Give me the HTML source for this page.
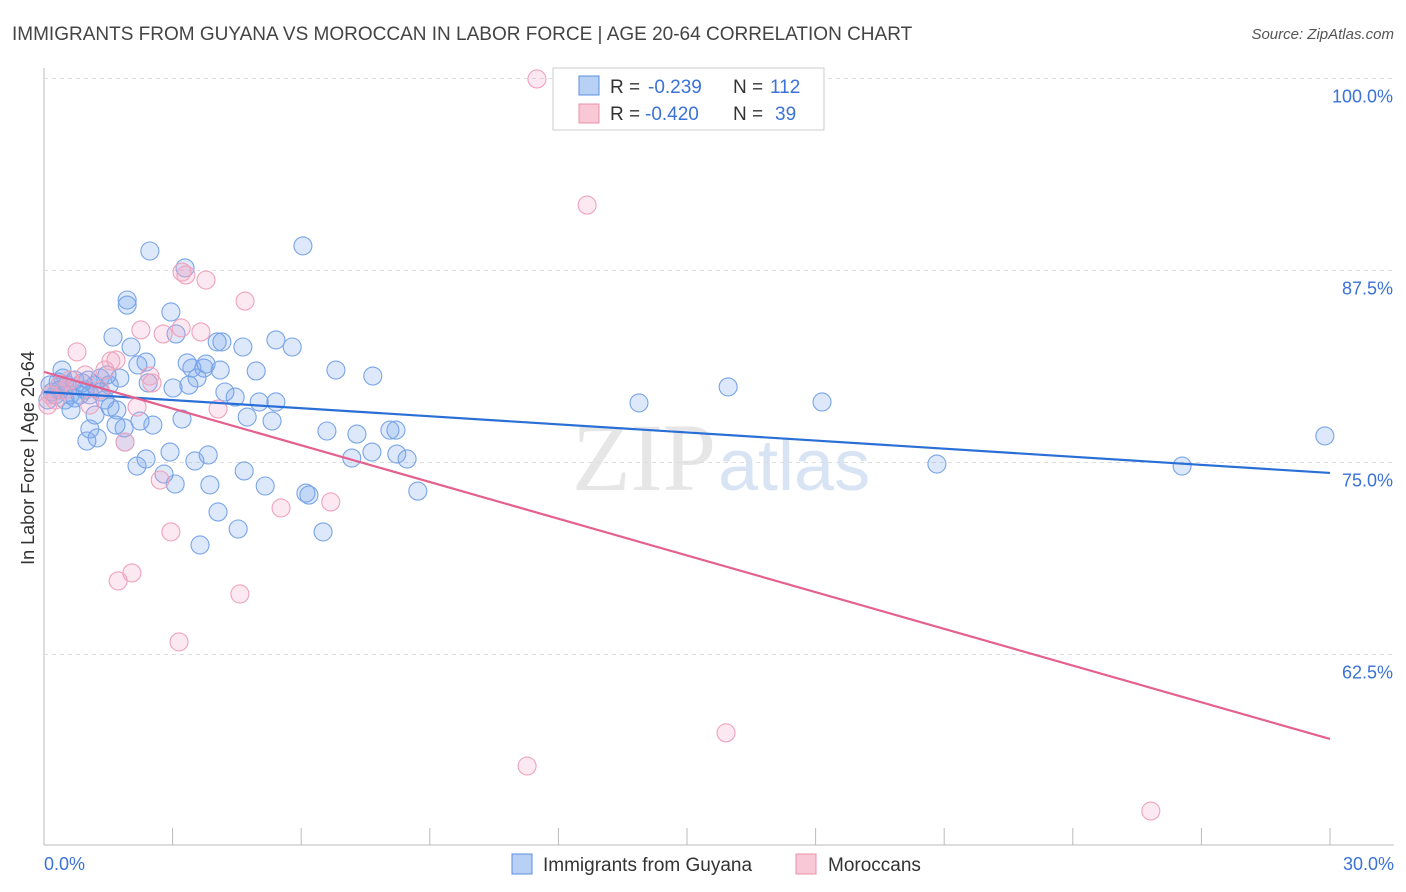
<!DOCTYPE html>
<html><head><meta charset="utf-8"><style>
body{margin:0;background:#fff;font-family:"Liberation Sans",sans-serif}
svg{display:block}
</style></head><body>
<svg id="c" width="1406" height="892">
<text x="12" y="40" font-size="19" fill="#444">IMMIGRANTS FROM GUYANA VS MOROCCAN IN LABOR FORCE | AGE 20-64 CORRELATION CHART</text>
<text x="1394" y="39" font-size="15" fill="#555" font-style="italic" text-anchor="end">Source: ZipAtlas.com</text>
<text x="716" y="490" font-size="96" fill="#e6e6e6" text-anchor="end" font-family="Liberation Serif">ZIP</text>
<text x="718" y="490" font-size="72" fill="#d8e4f4">atlas</text>
<text transform="translate(34,458) rotate(-90)" font-size="18" fill="#333" text-anchor="middle">In Labor Force | Age 20-64</text>
<g id="grid"></g><g id="pts"></g><g id="trend"></g>
<g>
<rect x="553" y="68" width="271" height="62" fill="#fff" stroke="#ccc"/>
<rect x="579" y="76" width="20" height="19" fill="#b8d0f4" stroke="#5b8fe0"/>
<rect x="579" y="104" width="20" height="19" fill="#f8c8d6" stroke="#e890aa"/>
<text x="610" y="93" font-size="19" fill="#333">R =</text>
<text x="648" y="93" font-size="19" fill="#3a72d8">-0.239</text>
<text x="733" y="93" font-size="19" fill="#333">N =</text>
<text x="770" y="93" font-size="19" fill="#3a72d8">112</text>
<text x="610" y="120" font-size="19" fill="#333">R =</text>
<text x="645" y="120" font-size="19" fill="#3a72d8">-0.420</text>
<text x="733" y="120" font-size="19" fill="#333">N =</text>
<text x="775" y="120" font-size="19" fill="#3a72d8">39</text>
</g>
<g>
<rect x="512" y="854" width="20" height="20" fill="#b8d0f4" stroke="#5b8fe0"/>
<text x="543" y="871" font-size="19" fill="#333">Immigrants from Guyana</text>
<rect x="796" y="854" width="20" height="20" fill="#f8c8d6" stroke="#e890aa"/>
<text x="828" y="871" font-size="19" fill="#333">Moroccans</text>
</g>
<text x="44" y="870" font-size="18" fill="#3a72d8">0.0%</text>
<text x="1394" y="870" font-size="18" fill="#3a72d8" text-anchor="end">30.0%</text>
</svg>
<script>
const blueX=[2.47,6.04,3.29,1.94,1.94,2.96,3.08,1.61,2.03,4.04,4.15,4.64,5.41,5.79,2.38,3.34,3.45,3.78,3.73,4.95,6.81,7.67,4.11,0.42,1.31,1.77,1.47,3.57,2.43,3.38,3.01,4.22,4.46,5.02,5.41,15.96,13.88,18.15,0.63,1.54,1.70,1.19,2.54,1.68,2.24,3.22,4.74,5.32,1.87,1.07,1.00,1.89,1.24,6.60,7.30,8.07,8.21,2.94,2.38,2.80,3.06,3.52,3.83,4.67,5.16,7.18,7.65,8.23,8.47,2.17,6.11,6.18,8.72,3.87,4.06,4.53,3.64,6.51,20.83,26.55,29.88,0.14,0.26,0.37,0.54,0.72,0.84,0.96,0.09,0.49,0.61,1.07,1.31,0.33,0.19,0.72,0.89,1.42,1.03,0.44,1.19,1.52,2.19];
const blueY=[88.77,89.10,87.67,85.58,85.25,84.80,83.37,83.17,82.52,82.85,82.85,82.52,82.98,82.52,81.54,81.48,81.15,81.41,81.15,80.96,81.02,80.63,81.02,81.02,80.50,80.50,80.70,80.50,80.18,80.04,79.85,79.59,79.26,78.94,78.94,79.92,78.88,78.94,78.42,78.61,78.42,78.09,77.44,77.44,77.70,77.83,77.96,77.70,77.25,77.18,76.40,76.33,76.60,77.05,76.85,77.11,77.11,75.68,75.23,74.25,73.60,75.10,75.49,74.45,73.47,75.29,75.68,75.55,75.23,74.77,73.01,72.88,73.14,73.54,71.78,70.67,69.63,70.48,74.90,74.77,76.73,80.05,79.40,79.72,80.05,80.37,79.40,79.72,79.07,79.07,79.40,79.40,79.59,80.24,79.59,79.20,80.18,79.07,80.37,80.50,80.05,80.05,81.35];
const pinkX=[11.50,12.67,3.31,3.78,4.69,3.22,2.26,2.78,3.20,3.66,0.77,1.56,1.68,2.47,2.52,2.17,4.06,1.89,2.71,2.96,5.53,6.69,2.05,1.73,4.57,3.15,15.91,11.27,25.82,0.14,0.26,0.37,0.61,0.96,1.07,1.31,1.42,0.49,0.09];
const pinkY=[99.97,91.76,87.21,86.88,85.51,87.40,83.63,83.37,83.76,83.50,82.20,81.61,81.67,80.63,80.18,78.61,78.48,76.33,73.86,70.48,72.04,72.43,67.81,67.29,66.44,63.32,57.40,55.24,52.31,79.40,79.07,80.05,80.37,80.70,78.74,79.72,81.02,79.72,78.74];
const blueTrend=[79.59,74.32];
const pinkTrend=[80.9,57.0];
const yTicks=[100,87.5,75,62.5];
const yTickLabels=["100.0%","87.5%","75.0%","62.5%"];
const xTicks=[3,6,9,12,15,18,21,24,27,30];

const NS="http://www.w3.org/2000/svg";
const X=v=>44+v/30*1286;
const Y=v=>78.5+(100-v)/12.5*192;
function mk(tag,attrs,parent){const e=document.createElementNS(NS,tag);for(const k in attrs)e.setAttribute(k,attrs[k]);parent.appendChild(e);return e;}
const grid=document.getElementById('grid');
let ax=mk('line',{x1:44,y1:68,x2:44,y2:845,stroke:'#bbb'},grid);


let bx=mk('line',{x1:44,y1:845,x2:1394,y2:845,stroke:'#bbb'},grid);


yTicks.forEach((t,i)=>{
  const g=mk('line',{x1:44,y1:Y(t),x2:1394,y2:Y(t),stroke:'#ddd','stroke-dasharray':'4,4'},grid);
  
  
  const tx=mk('text',{x:1393,y:Y(t)+24,'font-size':18,fill:'#3a72d8','text-anchor':'end'},grid);
  tx.textContent=yTickLabels[i];
  
  
});
xTicks.forEach(t=>{
  const l=mk('line',{x1:X(t),y1:828,x2:X(t),y2:845,stroke:'#bbb'},grid);
  
  
});
const pts=document.getElementById('pts');
blueX.forEach((v,i)=>{
  const c=mk('circle',{cx:X(v),cy:Y(blueY[i]),r:9,fill:'rgba(120,165,235,0.25)',stroke:'#78a4e8','stroke-width':1.1},pts);
  
  
});
pinkX.forEach((v,i)=>{
  const c=mk('circle',{cx:X(v),cy:Y(pinkY[i]),r:9,fill:'rgba(245,165,195,0.25)',stroke:'#eea3bc','stroke-width':1.1},pts);
  
  
});
const tr=document.getElementById('trend');
let b=mk('line',{x1:X(0),y1:Y(blueTrend[0]),x2:X(30),y2:Y(blueTrend[1]),stroke:'#2a6fd6','stroke-width':2.2},tr);


let p=mk('line',{x1:X(0),y1:Y(pinkTrend[0]),x2:X(30),y2:Y(pinkTrend[1]),stroke:'#e4608e','stroke-width':2.2},tr);


</script>
</body></html>
